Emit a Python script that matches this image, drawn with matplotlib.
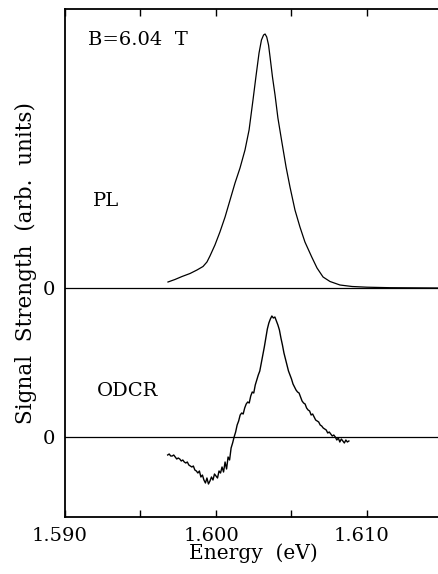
import numpy as np
import matplotlib
matplotlib.use("Agg")
import matplotlib.pyplot as plt
from matplotlib.transforms import ScaledTranslation

# ---------------- data (arb. units) ----------------
pl_energy = [1.59682, 1.59728, 1.59775, 1.59828, 1.59874, 1.59914, 1.59940, 1.59960,
             1.59993, 1.60026, 1.60060, 1.60093, 1.60126, 1.60159, 1.60192, 1.60219,
             1.60245, 1.60265, 1.60285, 1.60301, 1.60315, 1.60325, 1.60336, 1.60348,
             1.60358, 1.60374, 1.60391, 1.60410, 1.60435, 1.60464, 1.60490, 1.60523,
             1.60556, 1.60589, 1.60634, 1.60669, 1.60709, 1.60755, 1.60821, 1.60901,
             1.61000, 1.61152, 1.61480]
pl_signal = [6, 8.5, 11.5, 14.5, 18, 21.5, 26, 32,
             43, 56, 71, 88, 105, 120, 138, 158,
             188, 212, 235, 248, 253, 254, 251, 243,
             231, 211, 193, 170, 147, 121, 101, 78,
             61, 46, 31, 20, 11, 6.5, 3, 1.5,
             0.8, 0.3, 0.0]

odcr_start = 1.5968
odcr_step = 0.0001
odcr_signal = [-18, -17, -19, -19, -18, -20, -22, -21, -22, -24,
               -23, -25, -26, -25, -28, -29, -30, -29, -33, -34,
               -36, -34, -40, -38, -43, -46, -41, -47, -44, -40,
               -43, -37, -39, -41, -34, -36, -30, -35, -25, -32,
               -20, -23, -11, -6, 0, 5, 12, 16, 22, 24,
               23, 29, 33, 35, 34, 41, 45, 44, 52, 57,
               62, 66, 74, 82, 90, 99, 108, 114, 118, 121,
               119, 120, 116, 112, 107, 99, 92, 84, 78, 72,
               66, 62, 58, 53, 50, 47, 45, 44, 40, 36,
               34, 33, 29, 27, 26, 22, 23, 20, 17, 16,
               15, 12, 11, 9, 8, 7, 4, 5, 3, 1,
               2, 0, -3, -1, -5, -2, -4, -6, -3, -5,
               -4]
odcr_energy = odcr_start + odcr_step * np.arange(len(odcr_signal))

xticks = [1.590, 1.595, 1.600, 1.605, 1.610]
xticklabels = ["1.590", "", "1.600", "", "1.610"]

pl_offset = 149.0  # vertical offset of the PL trace

# ---------------- figure ----------------
plt.rcParams["font.family"] = ["DejaVu Serif"]

W, H = 439, 574
fig = plt.figure(figsize=(W / 100, H / 100), dpi=100)
ax = fig.add_axes([65 / W, (H - 517) / H, 377.5 / W, 508 / H])

ax.plot(pl_energy, np.array(pl_signal) + pl_offset, color="black", lw=0.9)
ax.plot(odcr_energy, odcr_signal, color="black", lw=1.0)
ax.axhline(pl_offset, color="black", lw=0.9)
ax.axhline(0, color="black", lw=0.9)

ax.set_xlim(1.590, 1.615)
ax.set_ylim(-80, 428)

ax.set_xticks(xticks)
ax.set_xticklabels(xticklabels, fontsize=14)
ax.tick_params(axis="x", direction="in", length=5, width=1.0, top=True, pad=7)
off = ScaledTranslation(-5 / 100, 0, fig.dpi_scale_trans)
for lab in ax.get_xticklabels():
    lab.set_transform(lab.get_transform() + off)

ax.set_yticks([0, pl_offset])
ax.set_yticklabels(["0", "0"], fontsize=14)
ax.tick_params(axis="y", length=0, pad=7)

for s in ["left", "top", "bottom"]:
    ax.spines[s].set_linewidth(1.3)
ax.spines["right"].set_visible(False)

ax.set_xlabel("Energy  (eV)", fontsize=14.5, labelpad=-1)
ax.set_ylabel("Signal  Strength  (arb.  units)", fontsize=15.5, labelpad=4)

ax.text(0.061, 0.939, "B=6.04  T", transform=ax.transAxes, fontsize=14, va="center", ha="left")
ax.text(0.074, 0.622, "PL", transform=ax.transAxes, fontsize=14, va="center", ha="left")
ax.text(0.085, 0.248, "ODCR", transform=ax.transAxes, fontsize=14, va="center", ha="left")

fig.savefig("out.png", dpi=100)
